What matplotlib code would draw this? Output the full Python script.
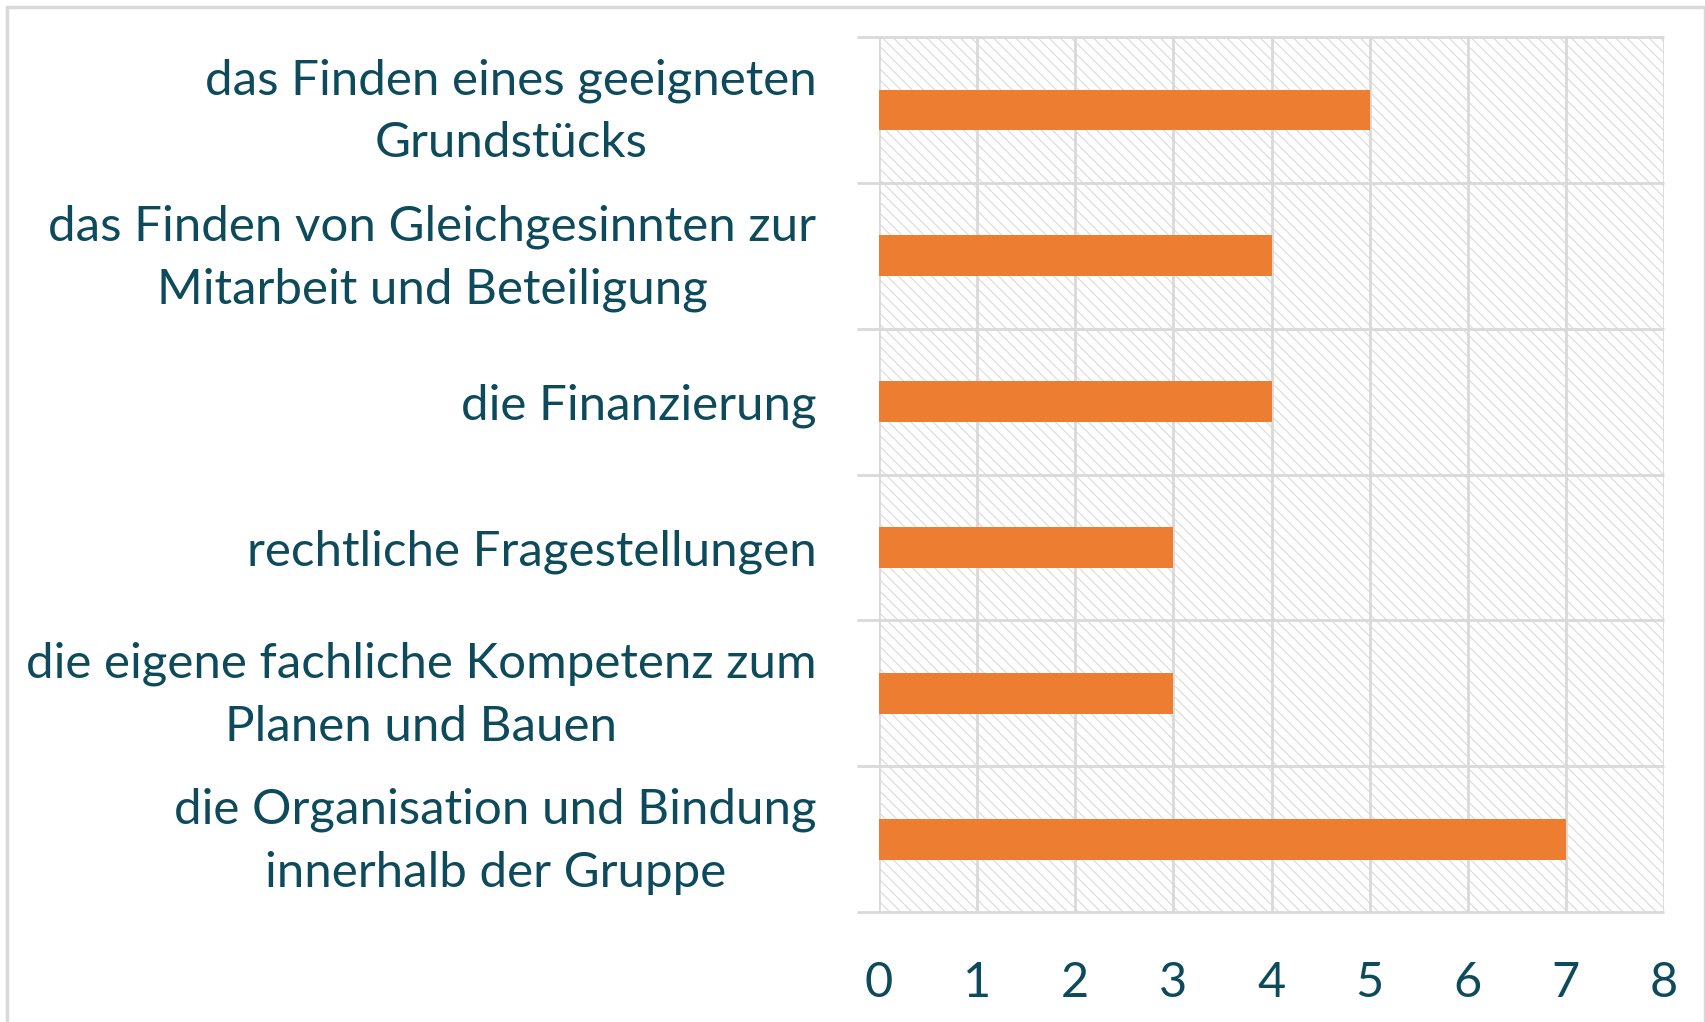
import matplotlib
matplotlib.use("Agg")
import matplotlib.pyplot as plt
from matplotlib.patches import Rectangle
import matplotlib.transforms as mtransforms
import numpy as np

categories = [
    "das Finden eines geeigneten\nGrundstücks",
    "das Finden von Gleichgesinnten zur\nMitarbeit und Beteiligung",
    "die Finanzierung",
    "rechtliche Fragestellungen",
    "die eigene fachliche Kompetenz zum\nPlanen und Bauen",
    "die Organisation und Bindung\ninnerhalb der Gruppe",
]
values = [5, 4, 4, 3, 3, 7]
xticks = [0, 1, 2, 3, 4, 5, 6, 7, 8]

TEXT = "#0D4A5C"
GRID = "#D9D9D9"
BAR = "#ED7D31"

plt.rcParams['font.family'] = ['Lato', 'DejaVu Sans']
plt.rcParams['hatch.linewidth'] = 0.8

W, H = 1706, 1022
fig = plt.figure(figsize=(W / 100, H / 100), dpi=100)
fig.patch.set_facecolor("white")

# figure border
fig.patches.append(Rectangle((7 / W, -0.01), (1705 - 7) / W, (H - 7) / H + 0.01,
                             transform=fig.transFigure, fill=False,
                             edgecolor=GRID, linewidth=2.5))

left, right, top, bottom = 879, 1664, 37, 912
ax = fig.add_axes([left / W, 1 - bottom / H, (right - left) / W, (bottom - top) / H])

n = len(categories)
y = np.arange(n)

# hatched background
bg = Rectangle((0, 0), 1, 1, transform=ax.transAxes, facecolor="white",
               edgecolor="#DADADA", hatch="\\\\\\", linewidth=0, zorder=0)
ax.add_patch(bg)
ax.patch.set_visible(False)

ax.barh(y, values, height=0.28, color=BAR, zorder=3)

ax.set_xlim(0, 8)
ax.set_ylim(n - 0.5, -0.5)

# vertical gridlines
for xv in xticks:
    ax.axvline(xv, color=GRID, linewidth=2, zorder=1)
# category boundary lines with small tick extending left
for b in np.arange(-0.5, n, 1.0):
    ax.plot([-0.22, 8], [b, b], color=GRID, linewidth=2, zorder=1, clip_on=False,
            solid_capstyle="butt")

for s in ax.spines.values():
    s.set_visible(False)

ax.set_xticks(xticks)
ax.set_xticklabels([str(v) for v in xticks], fontsize=35, color=TEXT)
ax.tick_params(axis="x", length=0, pad=35)

ax.set_yticks(y)
ax.set_yticklabels(categories, fontsize=35.5, color=TEXT, linespacing=1.51)
ax.tick_params(axis="y", length=0, pad=45)
shift = mtransforms.ScaledTranslation(0, 8 / 72, fig.dpi_scale_trans)
for lbl in ax.get_yticklabels():
    lbl.set_multialignment("center")
    if "\n" in lbl.get_text():
        lbl.set_transform(lbl.get_transform() + shift)

fig.savefig("out.png", dpi=100, facecolor="white")
